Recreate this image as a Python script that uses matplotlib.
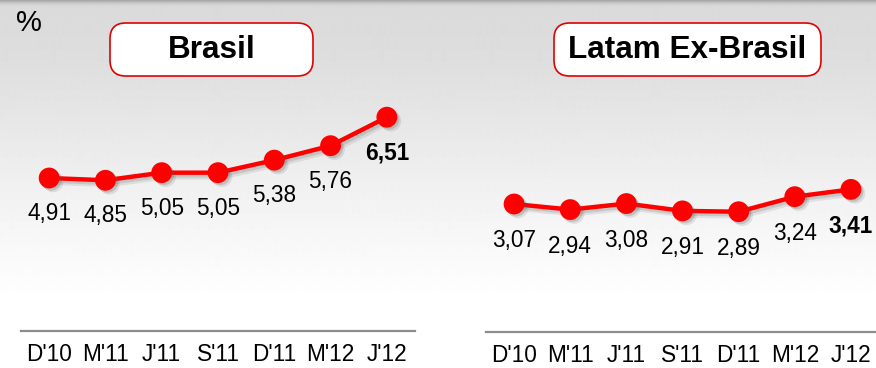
import numpy as np
import matplotlib
matplotlib.use("Agg")
import matplotlib.pyplot as plt
from matplotlib.patches import FancyBboxPatch
import matplotlib.patheffects as pe

plt.rcParams['font.family'] = ['Liberation Sans', 'DejaVu Sans']

periods = ["D'10", "M'11", "J'11", "S'11", "D'11", "M'12", "J'12"]
brasil = [4.91, 4.85, 5.05, 5.05, 5.38, 5.76, 6.51]
latam = [3.07, 2.94, 3.08, 2.91, 2.89, 3.24, 3.41]
titles = ["Brasil", "Latam Ex-Brasil"]

W, H = 876, 368
fig = plt.figure(figsize=(W / 100, H / 100), dpi=100)

# background: grey at the top fading to white
bg = fig.add_axes([0, 0, 1, 1], zorder=-10)
rows = np.arange(H, dtype=float)
shade = np.interp(rows, [0, 3, 6, 60, 200, 300, H], [0.66, 0.80, 0.855, 0.87, 0.95, 1.0, 1.0])
img = np.repeat(shade[:, None], 2, axis=1)
bg.imshow(img, cmap='gray', vmin=0, vmax=1, aspect='auto', extent=[0, 1, 0, 1],
          origin='upper', interpolation='bilinear')
bg.set_axis_off()


def px_axes(left, right, top, bottom):
    return fig.add_axes([left / W, 1 - bottom / H, (right - left) / W, (bottom - top) / H])


def draw_panel(ax, values, ylim, title, box, label_drop):
    x = np.arange(len(values))
    line_shadow = [pe.SimpleLineShadow(offset=(1.5, -1.5), shadow_color='0.35', alpha=0.18, linewidth=4),
                   pe.SimpleLineShadow(offset=(2.5, -2.5), shadow_color='0.35', alpha=0.12, linewidth=5),
                   pe.Normal()]
    mark_shadow = [pe.SimplePatchShadow(offset=(1.5, -1.5), shadow_rgbFace='0.35', alpha=0.22),
                   pe.SimplePatchShadow(offset=(2.8, -2.8), shadow_rgbFace='0.35', alpha=0.14),
                   pe.Normal()]
    ax.plot(x, values, color='#ff0000', lw=3.2, solid_capstyle='round', path_effects=line_shadow, zorder=3)
    ax.plot(x, values, 'o', color='#ff0000', ms=15, mec='none', path_effects=mark_shadow, zorder=4)
    for i, v in enumerate(values):
        last = i == len(values) - 1
        ax.annotate(f"{v:.2f}".replace('.', ','), (i, v), xytext=(0, -label_drop), textcoords='offset points',
                    ha='center', va='center', fontsize=16.3,
                    fontweight='bold' if last else 'normal', color='black')
    for i, p in enumerate(periods):
        ax.annotate(p, (i, 0), xycoords=('data', 'axes fraction'), xytext=(0, -21.5),
                    textcoords='offset points', ha='center', va='baseline', fontsize=16.3)
    ax.set_xlim(-0.5, len(values) - 0.5)
    ax.set_ylim(*ylim)
    ax.patch.set_visible(False)
    for s in ['top', 'right', 'left']:
        ax.spines[s].set_visible(False)
    ax.spines['bottom'].set_color('#8c8c8c')
    ax.spines['bottom'].set_linewidth(1.6)
    ax.set_xticks([])
    ax.set_yticks([])

    bx0, by0, bx1, by1 = box
    fig.patches.append(FancyBboxPatch((bx0 / W, 1 - by1 / H), (bx1 - bx0) / W, (by1 - by0) / H,
                                      boxstyle='round,pad=0,rounding_size=0.018',
                                      transform=fig.transFigure, facecolor='white',
                                      edgecolor='#e00000', linewidth=1.2, mutation_aspect=W / H))
    fig.text((bx0 + bx1) / 2 / W, 1 - ((by0 + by1) / 2 + 1) / H, title, ha='center', va='center',
             fontsize=22.7, fontweight='bold')


# left panel: 38 px per unit, baseline at y=331
axL = px_axes(21, 415, 91, 331)
loL = 4.91 - (331 - 178) / 38.0
draw_panel(axL, brasil, (loL, loL + 240 / 38.0), titles[0], (110, 23, 313, 76), 25.5)

# right panel: 43 px per unit, baseline at y=332
axR = px_axes(486, 879, 91, 332)
loR = 3.07 - (332 - 204) / 43.0
draw_panel(axR, latam, (loR, loR + 241 / 43.0), titles[1], (554, 23, 821, 76), 26.5)

fig.text(29 / W, 1 - 23 / H, '%', ha='center', va='center', fontsize=21)

fig.savefig('out.png', dpi=100)
